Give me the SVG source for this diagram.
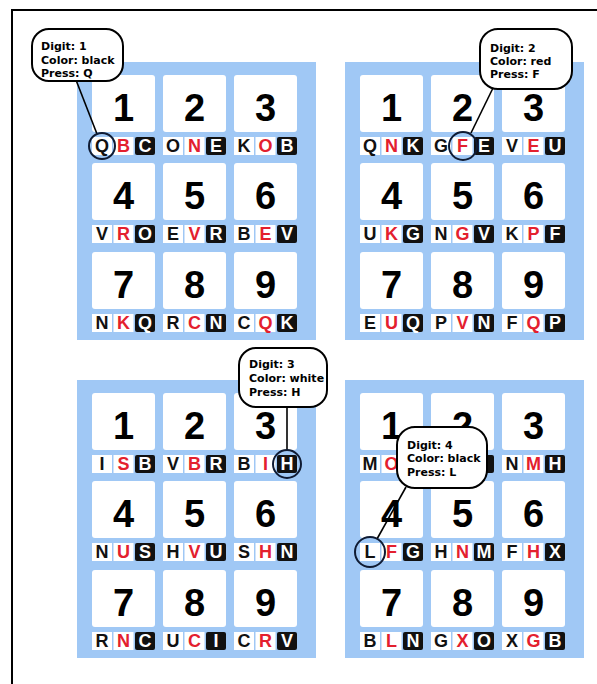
<svg xmlns="http://www.w3.org/2000/svg" width="597" height="684" viewBox="0 0 597 684">
<style>
.panel{fill:#a0c8f5}
.tile{fill:#ffffff}
.cw{fill:#ffffff}
.cb{fill:#111111}
.dig{font-family:"Liberation Sans",Arial,sans-serif;font-weight:bold;font-size:38px;text-anchor:middle;fill:#000}
.lk,.lr,.lw{font-family:"Liberation Sans",Arial,sans-serif;font-weight:bold;font-size:18px;text-anchor:middle}
.lk{fill:#111}
.lr{fill:#e3202e}
.lw{fill:#ffffff}
.bub{fill:#ffffff;stroke:#000;stroke-width:2}
.bt{font-family:"DejaVu Sans",Verdana,sans-serif;font-weight:bold;font-size:11px;fill:#000}
.con{stroke:#000;stroke-width:1.6;fill:none}
.ring{stroke:#0f1b33;stroke-width:2;fill:none}
.frame{stroke:#000;stroke-width:2;fill:none}
</style>
<path class="frame" d="M12,684 V10 H597"/>

<g id="panel-tl">
<rect class="panel" x="77" y="62" width="239" height="278"/>
<g id="tl-1"><rect class="tile" x="92" y="75" width="63" height="57" rx="3"/><text class="dig" x="123.5" y="121">1</text><rect class="cw" x="92" y="137" width="20" height="18"/><rect class="cw" x="113.5" y="137" width="20" height="18"/><rect class="cb" x="135" y="137" width="20" height="18" rx="2"/><text class="lk" x="102" y="152">Q</text><text class="lr" x="123.5" y="152">B</text><text class="lw" x="145" y="152">C</text></g>
<g id="tl-2"><rect class="tile" x="163" y="75" width="63" height="57" rx="3"/><text class="dig" x="194.5" y="121">2</text><rect class="cw" x="163" y="137" width="20" height="18"/><rect class="cw" x="184.5" y="137" width="20" height="18"/><rect class="cb" x="206" y="137" width="20" height="18" rx="2"/><text class="lk" x="173" y="152">O</text><text class="lr" x="194.5" y="152">N</text><text class="lw" x="216" y="152">E</text></g>
<g id="tl-3"><rect class="tile" x="234" y="75" width="63" height="57" rx="3"/><text class="dig" x="265.5" y="121">3</text><rect class="cw" x="234" y="137" width="20" height="18"/><rect class="cw" x="255.5" y="137" width="20" height="18"/><rect class="cb" x="277" y="137" width="20" height="18" rx="2"/><text class="lk" x="244" y="152">K</text><text class="lr" x="265.5" y="152">O</text><text class="lw" x="287" y="152">B</text></g>
<g id="tl-4"><rect class="tile" x="92" y="163" width="63" height="57" rx="3"/><text class="dig" x="123.5" y="209">4</text><rect class="cw" x="92" y="225" width="20" height="18"/><rect class="cw" x="113.5" y="225" width="20" height="18"/><rect class="cb" x="135" y="225" width="20" height="18" rx="2"/><text class="lk" x="102" y="240">V</text><text class="lr" x="123.5" y="240">R</text><text class="lw" x="145" y="240">O</text></g>
<g id="tl-5"><rect class="tile" x="163" y="163" width="63" height="57" rx="3"/><text class="dig" x="194.5" y="209">5</text><rect class="cw" x="163" y="225" width="20" height="18"/><rect class="cw" x="184.5" y="225" width="20" height="18"/><rect class="cb" x="206" y="225" width="20" height="18" rx="2"/><text class="lk" x="173" y="240">E</text><text class="lr" x="194.5" y="240">V</text><text class="lw" x="216" y="240">R</text></g>
<g id="tl-6"><rect class="tile" x="234" y="163" width="63" height="57" rx="3"/><text class="dig" x="265.5" y="209">6</text><rect class="cw" x="234" y="225" width="20" height="18"/><rect class="cw" x="255.5" y="225" width="20" height="18"/><rect class="cb" x="277" y="225" width="20" height="18" rx="2"/><text class="lk" x="244" y="240">B</text><text class="lr" x="265.5" y="240">E</text><text class="lw" x="287" y="240">V</text></g>
<g id="tl-7"><rect class="tile" x="92" y="252" width="63" height="57" rx="3"/><text class="dig" x="123.5" y="298">7</text><rect class="cw" x="92" y="314" width="20" height="18"/><rect class="cw" x="113.5" y="314" width="20" height="18"/><rect class="cb" x="135" y="314" width="20" height="18" rx="2"/><text class="lk" x="102" y="329">N</text><text class="lr" x="123.5" y="329">K</text><text class="lw" x="145" y="329">Q</text></g>
<g id="tl-8"><rect class="tile" x="163" y="252" width="63" height="57" rx="3"/><text class="dig" x="194.5" y="298">8</text><rect class="cw" x="163" y="314" width="20" height="18"/><rect class="cw" x="184.5" y="314" width="20" height="18"/><rect class="cb" x="206" y="314" width="20" height="18" rx="2"/><text class="lk" x="173" y="329">R</text><text class="lr" x="194.5" y="329">C</text><text class="lw" x="216" y="329">N</text></g>
<g id="tl-9"><rect class="tile" x="234" y="252" width="63" height="57" rx="3"/><text class="dig" x="265.5" y="298">9</text><rect class="cw" x="234" y="314" width="20" height="18"/><rect class="cw" x="255.5" y="314" width="20" height="18"/><rect class="cb" x="277" y="314" width="20" height="18" rx="2"/><text class="lk" x="244" y="329">C</text><text class="lr" x="265.5" y="329">Q</text><text class="lw" x="287" y="329">K</text></g>
</g>

<g id="panel-tr">
<rect class="panel" x="345" y="62" width="239" height="278"/>
<g id="tr-1"><rect class="tile" x="360" y="75" width="63" height="57" rx="3"/><text class="dig" x="391.5" y="121">1</text><rect class="cw" x="360" y="137" width="20" height="18"/><rect class="cw" x="381.5" y="137" width="20" height="18"/><rect class="cb" x="403" y="137" width="20" height="18" rx="2"/><text class="lk" x="370" y="152">Q</text><text class="lr" x="391.5" y="152">N</text><text class="lw" x="413" y="152">K</text></g>
<g id="tr-2"><rect class="tile" x="431" y="75" width="63" height="57" rx="3"/><text class="dig" x="462.5" y="121">2</text><rect class="cw" x="431" y="137" width="20" height="18"/><rect class="cw" x="452.5" y="137" width="20" height="18"/><rect class="cb" x="474" y="137" width="20" height="18" rx="2"/><text class="lk" x="441" y="152">G</text><text class="lr" x="462.5" y="152">F</text><text class="lw" x="484" y="152">E</text></g>
<g id="tr-3"><rect class="tile" x="502" y="75" width="63" height="57" rx="3"/><text class="dig" x="533.5" y="121">3</text><rect class="cw" x="502" y="137" width="20" height="18"/><rect class="cw" x="523.5" y="137" width="20" height="18"/><rect class="cb" x="545" y="137" width="20" height="18" rx="2"/><text class="lk" x="512" y="152">V</text><text class="lr" x="533.5" y="152">E</text><text class="lw" x="555" y="152">U</text></g>
<g id="tr-4"><rect class="tile" x="360" y="163" width="63" height="57" rx="3"/><text class="dig" x="391.5" y="209">4</text><rect class="cw" x="360" y="225" width="20" height="18"/><rect class="cw" x="381.5" y="225" width="20" height="18"/><rect class="cb" x="403" y="225" width="20" height="18" rx="2"/><text class="lk" x="370" y="240">U</text><text class="lr" x="391.5" y="240">K</text><text class="lw" x="413" y="240">G</text></g>
<g id="tr-5"><rect class="tile" x="431" y="163" width="63" height="57" rx="3"/><text class="dig" x="462.5" y="209">5</text><rect class="cw" x="431" y="225" width="20" height="18"/><rect class="cw" x="452.5" y="225" width="20" height="18"/><rect class="cb" x="474" y="225" width="20" height="18" rx="2"/><text class="lk" x="441" y="240">N</text><text class="lr" x="462.5" y="240">G</text><text class="lw" x="484" y="240">V</text></g>
<g id="tr-6"><rect class="tile" x="502" y="163" width="63" height="57" rx="3"/><text class="dig" x="533.5" y="209">6</text><rect class="cw" x="502" y="225" width="20" height="18"/><rect class="cw" x="523.5" y="225" width="20" height="18"/><rect class="cb" x="545" y="225" width="20" height="18" rx="2"/><text class="lk" x="512" y="240">K</text><text class="lr" x="533.5" y="240">P</text><text class="lw" x="555" y="240">F</text></g>
<g id="tr-7"><rect class="tile" x="360" y="252" width="63" height="57" rx="3"/><text class="dig" x="391.5" y="298">7</text><rect class="cw" x="360" y="314" width="20" height="18"/><rect class="cw" x="381.5" y="314" width="20" height="18"/><rect class="cb" x="403" y="314" width="20" height="18" rx="2"/><text class="lk" x="370" y="329">E</text><text class="lr" x="391.5" y="329">U</text><text class="lw" x="413" y="329">Q</text></g>
<g id="tr-8"><rect class="tile" x="431" y="252" width="63" height="57" rx="3"/><text class="dig" x="462.5" y="298">8</text><rect class="cw" x="431" y="314" width="20" height="18"/><rect class="cw" x="452.5" y="314" width="20" height="18"/><rect class="cb" x="474" y="314" width="20" height="18" rx="2"/><text class="lk" x="441" y="329">P</text><text class="lr" x="462.5" y="329">V</text><text class="lw" x="484" y="329">N</text></g>
<g id="tr-9"><rect class="tile" x="502" y="252" width="63" height="57" rx="3"/><text class="dig" x="533.5" y="298">9</text><rect class="cw" x="502" y="314" width="20" height="18"/><rect class="cw" x="523.5" y="314" width="20" height="18"/><rect class="cb" x="545" y="314" width="20" height="18" rx="2"/><text class="lk" x="512" y="329">F</text><text class="lr" x="533.5" y="329">Q</text><text class="lw" x="555" y="329">P</text></g>
</g>

<g id="panel-bl">
<rect class="panel" x="77" y="380" width="239" height="278"/>
<g id="bl-1"><rect class="tile" x="92" y="393" width="63" height="57" rx="3"/><text class="dig" x="123.5" y="439">1</text><rect class="cw" x="92" y="455" width="20" height="18"/><rect class="cw" x="113.5" y="455" width="20" height="18"/><rect class="cb" x="135" y="455" width="20" height="18" rx="2"/><text class="lk" x="102" y="470">I</text><text class="lr" x="123.5" y="470">S</text><text class="lw" x="145" y="470">B</text></g>
<g id="bl-2"><rect class="tile" x="163" y="393" width="63" height="57" rx="3"/><text class="dig" x="194.5" y="439">2</text><rect class="cw" x="163" y="455" width="20" height="18"/><rect class="cw" x="184.5" y="455" width="20" height="18"/><rect class="cb" x="206" y="455" width="20" height="18" rx="2"/><text class="lk" x="173" y="470">V</text><text class="lr" x="194.5" y="470">B</text><text class="lw" x="216" y="470">R</text></g>
<g id="bl-3"><rect class="tile" x="234" y="393" width="63" height="57" rx="3"/><text class="dig" x="265.5" y="439">3</text><rect class="cw" x="234" y="455" width="20" height="18"/><rect class="cw" x="255.5" y="455" width="20" height="18"/><rect class="cb" x="277" y="455" width="20" height="18" rx="2"/><text class="lk" x="244" y="470">B</text><text class="lr" x="265.5" y="470">I</text><text class="lw" x="287" y="470">H</text></g>
<g id="bl-4"><rect class="tile" x="92" y="481" width="63" height="57" rx="3"/><text class="dig" x="123.5" y="527">4</text><rect class="cw" x="92" y="543" width="20" height="18"/><rect class="cw" x="113.5" y="543" width="20" height="18"/><rect class="cb" x="135" y="543" width="20" height="18" rx="2"/><text class="lk" x="102" y="558">N</text><text class="lr" x="123.5" y="558">U</text><text class="lw" x="145" y="558">S</text></g>
<g id="bl-5"><rect class="tile" x="163" y="481" width="63" height="57" rx="3"/><text class="dig" x="194.5" y="527">5</text><rect class="cw" x="163" y="543" width="20" height="18"/><rect class="cw" x="184.5" y="543" width="20" height="18"/><rect class="cb" x="206" y="543" width="20" height="18" rx="2"/><text class="lk" x="173" y="558">H</text><text class="lr" x="194.5" y="558">V</text><text class="lw" x="216" y="558">U</text></g>
<g id="bl-6"><rect class="tile" x="234" y="481" width="63" height="57" rx="3"/><text class="dig" x="265.5" y="527">6</text><rect class="cw" x="234" y="543" width="20" height="18"/><rect class="cw" x="255.5" y="543" width="20" height="18"/><rect class="cb" x="277" y="543" width="20" height="18" rx="2"/><text class="lk" x="244" y="558">S</text><text class="lr" x="265.5" y="558">H</text><text class="lw" x="287" y="558">N</text></g>
<g id="bl-7"><rect class="tile" x="92" y="570" width="63" height="57" rx="3"/><text class="dig" x="123.5" y="616">7</text><rect class="cw" x="92" y="632" width="20" height="18"/><rect class="cw" x="113.5" y="632" width="20" height="18"/><rect class="cb" x="135" y="632" width="20" height="18" rx="2"/><text class="lk" x="102" y="647">R</text><text class="lr" x="123.5" y="647">N</text><text class="lw" x="145" y="647">C</text></g>
<g id="bl-8"><rect class="tile" x="163" y="570" width="63" height="57" rx="3"/><text class="dig" x="194.5" y="616">8</text><rect class="cw" x="163" y="632" width="20" height="18"/><rect class="cw" x="184.5" y="632" width="20" height="18"/><rect class="cb" x="206" y="632" width="20" height="18" rx="2"/><text class="lk" x="173" y="647">U</text><text class="lr" x="194.5" y="647">C</text><text class="lw" x="216" y="647">I</text></g>
<g id="bl-9"><rect class="tile" x="234" y="570" width="63" height="57" rx="3"/><text class="dig" x="265.5" y="616">9</text><rect class="cw" x="234" y="632" width="20" height="18"/><rect class="cw" x="255.5" y="632" width="20" height="18"/><rect class="cb" x="277" y="632" width="20" height="18" rx="2"/><text class="lk" x="244" y="647">C</text><text class="lr" x="265.5" y="647">R</text><text class="lw" x="287" y="647">V</text></g>
</g>

<g id="panel-br">
<rect class="panel" x="345" y="380" width="239" height="278"/>
<g id="br-1"><rect class="tile" x="360" y="393" width="63" height="57" rx="3"/><text class="dig" x="391.5" y="439">1</text><rect class="cw" x="360" y="455" width="20" height="18"/><rect class="cw" x="381.5" y="455" width="20" height="18"/><rect class="cb" x="403" y="455" width="20" height="18" rx="2"/><text class="lk" x="370" y="470">M</text><text class="lr" x="391.5" y="470">O</text></g>
<g id="br-2"><rect class="tile" x="431" y="393" width="63" height="57" rx="3"/><text class="dig" x="462.5" y="439">2</text><rect class="cw" x="431" y="455" width="20" height="18"/><rect class="cw" x="452.5" y="455" width="20" height="18"/><rect class="cb" x="474" y="455" width="20" height="18" rx="2"/></g>
<g id="br-3"><rect class="tile" x="502" y="393" width="63" height="57" rx="3"/><text class="dig" x="533.5" y="439">3</text><rect class="cw" x="502" y="455" width="20" height="18"/><rect class="cw" x="523.5" y="455" width="20" height="18"/><rect class="cb" x="545" y="455" width="20" height="18" rx="2"/><text class="lk" x="512" y="470">N</text><text class="lr" x="533.5" y="470">M</text><text class="lw" x="555" y="470">H</text></g>
<g id="br-4"><rect class="tile" x="360" y="481" width="63" height="57" rx="3"/><text class="dig" x="391.5" y="527">4</text><rect class="cw" x="360" y="543" width="20" height="18"/><rect class="cw" x="381.5" y="543" width="20" height="18"/><rect class="cb" x="403" y="543" width="20" height="18" rx="2"/><text class="lk" x="370" y="558">L</text><text class="lr" x="391.5" y="558">F</text><text class="lw" x="413" y="558">G</text></g>
<g id="br-5"><rect class="tile" x="431" y="481" width="63" height="57" rx="3"/><text class="dig" x="462.5" y="527">5</text><rect class="cw" x="431" y="543" width="20" height="18"/><rect class="cw" x="452.5" y="543" width="20" height="18"/><rect class="cb" x="474" y="543" width="20" height="18" rx="2"/><text class="lk" x="441" y="558">H</text><text class="lr" x="462.5" y="558">N</text><text class="lw" x="484" y="558">M</text></g>
<g id="br-6"><rect class="tile" x="502" y="481" width="63" height="57" rx="3"/><text class="dig" x="533.5" y="527">6</text><rect class="cw" x="502" y="543" width="20" height="18"/><rect class="cw" x="523.5" y="543" width="20" height="18"/><rect class="cb" x="545" y="543" width="20" height="18" rx="2"/><text class="lk" x="512" y="558">F</text><text class="lr" x="533.5" y="558">H</text><text class="lw" x="555" y="558">X</text></g>
<g id="br-7"><rect class="tile" x="360" y="570" width="63" height="57" rx="3"/><text class="dig" x="391.5" y="616">7</text><rect class="cw" x="360" y="632" width="20" height="18"/><rect class="cw" x="381.5" y="632" width="20" height="18"/><rect class="cb" x="403" y="632" width="20" height="18" rx="2"/><text class="lk" x="370" y="647">B</text><text class="lr" x="391.5" y="647">L</text><text class="lw" x="413" y="647">N</text></g>
<g id="br-8"><rect class="tile" x="431" y="570" width="63" height="57" rx="3"/><text class="dig" x="462.5" y="616">8</text><rect class="cw" x="431" y="632" width="20" height="18"/><rect class="cw" x="452.5" y="632" width="20" height="18"/><rect class="cb" x="474" y="632" width="20" height="18" rx="2"/><text class="lk" x="441" y="647">G</text><text class="lr" x="462.5" y="647">X</text><text class="lw" x="484" y="647">O</text></g>
<g id="br-9"><rect class="tile" x="502" y="570" width="63" height="57" rx="3"/><text class="dig" x="533.5" y="616">9</text><rect class="cw" x="502" y="632" width="20" height="18"/><rect class="cw" x="523.5" y="632" width="20" height="18"/><rect class="cb" x="545" y="632" width="20" height="18" rx="2"/><text class="lk" x="512" y="647">X</text><text class="lr" x="533.5" y="647">G</text><text class="lw" x="555" y="647">B</text></g>
</g>

<g id="connectors">
<line class="con" x1="76" y1="80" x2="97" y2="134"/>
<circle class="ring" cx="102" cy="146" r="13"/>
<line class="con" x1="493" y1="88" x2="471" y2="133"/>
<circle class="ring" cx="463" cy="146" r="14"/>
<line class="con" x1="287" y1="406" x2="287" y2="450"/>
<circle class="ring" cx="287" cy="464" r="14"/>
<line class="con" x1="406" y1="487" x2="377" y2="539"/>
<circle class="ring" cx="370" cy="552" r="15"/>
</g>

<g id="callout-1">
<rect class="bub" x="32" y="29" width="91" height="52" rx="17"/>
<text class="bt" x="41" y="50">Digit: 1</text>
<text class="bt" x="41" y="63.5">Color: black</text>
<text class="bt" x="41" y="77">Press: Q</text>
</g>
<g id="callout-2">
<rect class="bub" x="480" y="29" width="92" height="60" rx="18"/>
<text class="bt" x="490" y="52">Digit: 2</text>
<text class="bt" x="490" y="65">Color: red</text>
<text class="bt" x="490" y="78">Press: F</text>
</g>
<g id="callout-3">
<rect class="bub" x="239" y="348" width="88" height="59" rx="17"/>
<text class="bt" x="249" y="368">Digit: 3</text>
<text class="bt" x="249" y="382">Color: white</text>
<text class="bt" x="249" y="396">Press: H</text>
</g>
<g id="callout-4">
<rect class="bub" x="397" y="427" width="90" height="61" rx="18"/>
<text class="bt" x="407" y="449">Digit: 4</text>
<text class="bt" x="407" y="462">Color: black</text>
<text class="bt" x="407" y="476">Press: L</text>
</g>
</svg>
